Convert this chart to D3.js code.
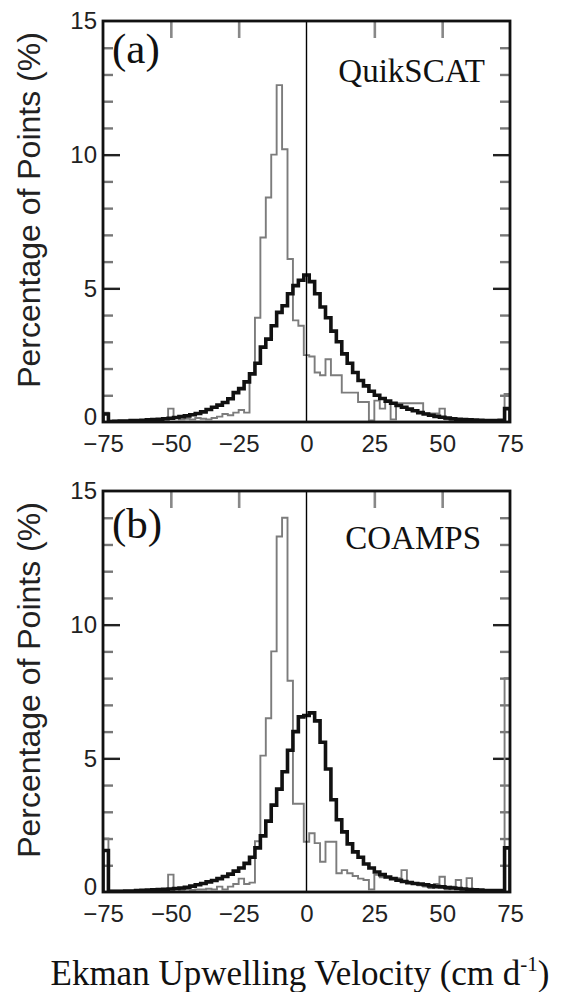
<!DOCTYPE html>
<html>
<head>
<meta charset="utf-8">
<script src="https://cdn.jsdelivr.net/npm/d3@7"></script>
<style>
    body { margin: 0; background: #fff; }
    .chart { width: 567px; height: 992px; }
    .axis text { font-family: "Liberation Sans", Arial, sans-serif; font-size: 24px; fill: #222; }
    .axis path { display: none; }
</style>
</head>
<body>
<div class="chart"></div>
<script>

// bin centres (2 cm/d bins from -75 to 75)
const binCenters = d3.range(-74, 76, 2);

// (a) QuikSCAT
const thinA = [
    0.35, 0.05, 0.05, 0.05, 0.05, 0.05, 0.08, 0.05, 0.08, 0.05,
    0.1, 0.1, 0.5, 0.15, 0.1, 0.12, 0.1, 0.15, 0.12, 0.1,
    0.15, 0.2, 0.3, 0.25, 0.35, 0.45, 0.35, 1.8, 3.9, 6.9,
    8.4, 10.0, 12.6, 10.2, 6.1, 3.8, 3.6, 2.5, 2.45, 1.85,
    1.75, 2.35, 1.75, 1.75, 1.1, 1.1, 1.1, 0.75, 0.75, 0.06,
    0.8, 0.5, 0.75, 0.1, 0.7, 0.7, 0.7, 0.7, 0.7, 0.32,
    0.32, 0.32, 0.5, 0.1, 0.08, 0.06, 0.05, 0.05, 0.05, 0.04,
    0.04, 0.04, 0.03, 0.03, 1.05
];
const thickA = [
    0.3, 0.02, 0.03, 0.04, 0.04, 0.05, 0.05, 0.06, 0.08, 0.09,
    0.1, 0.12, 0.14, 0.17, 0.2, 0.23, 0.27, 0.32, 0.38, 0.47,
    0.55, 0.63, 0.73, 0.87, 1.1, 1.25, 1.5, 1.8, 2.2, 2.8,
    3.1, 3.6, 4.1, 4.35, 4.8, 5.1, 5.3, 5.5, 5.25, 4.8,
    4.3, 3.9, 3.4, 3.0, 2.55, 2.2, 1.85, 1.55, 1.35, 1.15,
    1.0, 0.88, 0.78, 0.7, 0.62, 0.55, 0.48, 0.42, 0.35, 0.3,
    0.25, 0.21, 0.18, 0.15, 0.12, 0.1, 0.09, 0.08, 0.07, 0.06,
    0.05, 0.05, 0.05, 0.06, 0.5
];

// (b) COAMPS
const thinB = [
    2.0, 0.05, 0.05, 0.05, 0.05, 0.05, 0.05, 0.08, 0.05, 0.05,
    0.08, 0.05, 0.65, 0.1, 0.08, 0.1, 0.08, 0.1, 0.1, 0.12,
    0.1, 0.2, 0.1, 0.2, 0.3, 0.5, 0.3, 0.35, 1.9, 5.1,
    6.5, 9.0, 13.3, 14.0, 7.9, 3.3, 3.3, 1.88, 2.2, 1.83,
    1.13, 1.88, 1.88, 0.7, 0.82, 0.7, 0.6, 0.5, 0.45, 0.1,
    0.64, 0.55, 0.55, 0.52, 0.52, 0.82, 0.35, 0.3, 0.25, 0.2,
    0.15, 0.3, 0.57, 0.1, 0.2, 0.45, 0.1, 0.52, 0.1, 0.05,
    0.05, 0.05, 0.05, 0.05, 8.0
];
const thickB = [
    1.55, 0.03, 0.03, 0.03, 0.04, 0.04, 0.05, 0.06, 0.07, 0.08,
    0.09, 0.1, 0.11, 0.13, 0.15, 0.18, 0.22, 0.27, 0.32, 0.38,
    0.43, 0.5, 0.58, 0.67, 0.78, 0.9, 1.07, 1.3, 1.65, 2.1,
    2.65, 3.25, 3.85, 4.5, 5.3, 6.0, 6.55, 6.6, 6.7, 6.4,
    5.6, 4.6, 3.45, 2.7, 2.25, 1.8, 1.5, 1.3, 1.05, 0.9,
    0.75, 0.65, 0.56, 0.5, 0.44, 0.39, 0.35, 0.32, 0.3, 0.27,
    0.23, 0.2, 0.19, 0.17, 0.15, 0.13, 0.11, 0.09, 0.08, 0.07,
    0.05, 0.05, 0.05, 0.05, 1.65
];

const xTicks = [-75, -50, -25, 0, 25, 50, 75];
const xTopTicks = [-50, -25, 25, 50];
const yLabelTicks = [0, 5, 10, 15];
const yMajorTicks = [5, 10];
const yMinorTicks = [1, 2, 3, 4, 6, 7, 8, 9, 11, 12, 13, 14];

const panelLetters = ["(a)", "(b)"];
const panelNames = ["QuikSCAT", "COAMPS"];
const yTitle = "Percentage of Points (%)";

function init() {

    let left = 103,
        width = 407,
        height = 401;
    let panelTops = [21, 491];

    let svg = d3.select(".chart").append("svg")
        .attr("width", 567)
        .attr("height", 992);

    svg.append("rect").attr("width", 567).attr("height", 992).attr("fill", "#fff");

    let xScale = d3.scaleLinear()
        .range([0, width])
        .domain([-75, 75]);

    let yScale = d3.scaleLinear()
        .range([height, 0])
        .domain([0, 15]);

    //turn a list of bin heights into a stepped outline
    let stepLine = d3.line()
        .x(d => xScale(d[0]))
        .y(d => yScale(d[1]));

    function steps(values) {
        let pts = [[-75, 0]];
        values.forEach((v, i) => {
            pts.push([binCenters[i] - 1, v]);
            pts.push([binCenters[i] + 1, v]);
        });
        pts.push([75, 0]);
        return pts;
    }

    let series = [[thinA, thickA], [thinB, thickB]];

    series.forEach((pair, p) => {
        let plot = svg.append("g")
            .attr("class", "plot")
            .attr("transform", `translate(${left},${panelTops[p]})`);

        plot.append("clipPath").attr("id", "clip" + p)
            .append("rect").attr("width", width).attr("height", height);

        //inside ticks, left and right
        let sides = [
            [d3.axisLeft, 0],
            [d3.axisRight, width]
        ];
        sides.forEach(s => {
            plot.append("g").attr("class", "axis")
                .attr("transform", `translate(${s[1]},0)`)
                .call(s[0](yScale).tickValues(yMinorTicks).tickSize(-10).tickFormat(""))
                .selectAll("line").attr("stroke", "#777").attr("stroke-width", 2.4);
            plot.append("g").attr("class", "axis")
                .attr("transform", `translate(${s[1]},0)`)
                .call(s[0](yScale).tickValues(yMajorTicks).tickSize(-17).tickFormat(""))
                .selectAll("line").attr("stroke", "#222").attr("stroke-width", 2.4);
        });

        plot.append("g").attr("class", "axis")
            .call(d3.axisTop(xScale).tickValues(xTopTicks).tickSize(-17).tickFormat(""))
            .selectAll("line").attr("stroke", "#888").attr("stroke-width", 2.6);

        //tick labels
        plot.append("g").attr("class", "axis y-labels")
            .call(d3.axisLeft(yScale).tickValues(yLabelTicks).tickSize(0).tickPadding(6))
            .selectAll("text").attr("dy", d => d == 0 ? "0.1em" : "0.32em");

        plot.append("g").attr("class", "axis")
            .attr("transform", `translate(0,${height})`)
            .call(d3.axisBottom(xScale).tickValues(xTicks).tickSize(0).tickPadding(13));

        let lines = plot.append("g").attr("clip-path", `url(#clip${p})`);

        lines.append("path")
            .attr("d", stepLine(steps(pair[0])))
            .attr("fill", "none")
            .attr("stroke", "#7c7c7c")
            .attr("stroke-width", 1.9);

        lines.append("path")
            .attr("d", stepLine(steps(pair[1])))
            .attr("fill", "none")
            .attr("stroke", "#111")
            .attr("stroke-width", 3.6);

        //zero line
        plot.append("line")
            .attr("x1", xScale(0)).attr("x2", xScale(0))
            .attr("y1", 0).attr("y2", height)
            .attr("stroke", "#000").attr("stroke-width", 1.4);

        //frame
        plot.append("rect")
            .attr("width", width).attr("height", height)
            .attr("fill", "none")
            .attr("stroke", "#111").attr("stroke-width", 2.8);

        plot.append("text")
            .attr("x", 9).attr("y", p == 0 ? 42 : 47)
            .attr("font-family", "Liberation Serif, Times New Roman, serif")
            .attr("font-size", 43)
            .attr("fill", "#111")
            .text(panelLetters[p]);

        plot.append("text")
            .attr("x", p == 0 ? 382 : 378).attr("y", p == 0 ? 61 : 58)
            .attr("text-anchor", "end")
            .attr("font-family", "Liberation Serif, Times New Roman, serif")
            .attr("font-size", 33)
            .attr("fill", "#111")
            .text(panelNames[p]);

        svg.append("text")
            .attr("transform", `translate(29,${panelTops[p] + 189}) rotate(-90)`)
            .attr("text-anchor", "middle")
            .attr("dy", "0.35em")
            .attr("font-family", "Liberation Sans, Arial, sans-serif")
            .attr("font-size", 32)
            .attr("fill", "#222")
            .text(yTitle);
    });

    let xTitle = svg.append("text")
        .attr("x", 300).attr("y", 985)
        .attr("text-anchor", "middle")
        .attr("font-family", "Liberation Serif, Times New Roman, serif")
        .attr("font-size", 35)
        .attr("fill", "#111");
    xTitle.append("tspan").text("Ekman Upwelling Velocity (cm d");
    xTitle.append("tspan").attr("font-size", 21).attr("dy", -14).text("-1");
    xTitle.append("tspan").attr("dy", 14).text(")");
}

init();

</script>
</body>
</html>
